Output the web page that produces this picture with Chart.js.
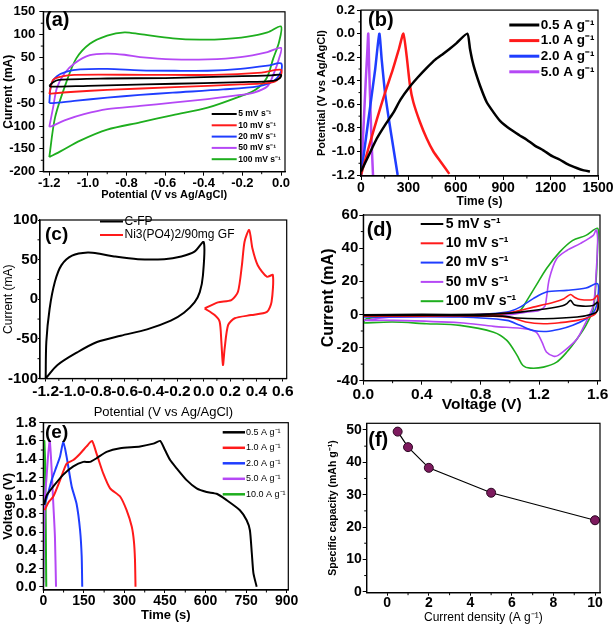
<!DOCTYPE html>
<html><head><meta charset="utf-8">
<script src="https://cdn.jsdelivr.net/npm/chart.js@4.4.1/dist/chart.umd.min.js"></script>
<style>
html,body{margin:0;padding:0;background:#fff;width:614px;height:626px;overflow:hidden;position:relative}
canvas{position:absolute}
</style></head><body>
<canvas id="pa"></canvas><canvas id="pb"></canvas><canvas id="pc"></canvas>
<canvas id="pd"></canvas><canvas id="pe"></canvas><canvas id="pf"></canvas>
<script>
const FAM = '"Liberation Sans", Arial, sans-serif';

// ---------- Panel (a): CV at scan rates ----------
const aXTicks = [-1.2,-1.0,-0.8,-0.6,-0.4,-0.2,0.0];
const aYTicks = [-200,-150,-100,-50,0,50,100,150];
const aLabels = ['5 mV s⁻¹','10 mV s⁻¹','20 mV s⁻¹','50 mV s⁻¹','100 mV s⁻¹'];
const a5 = [[-1.2,-12],[-1.18,-4],[-1.15,1],[-0.9,4],[-0.6,5],[-0.4,7],[-0.2,9],[-0.05,11],[0,12],[-0.005,5],[-0.04,-1],[-0.2,-4],[-0.4,-6],[-0.7,-9],[-1.0,-12],[-1.19,-14],[-1.2,-12]];
const a10 = [[-1.2,-30],[-1.18,1],[-1.14,8],[-1.07,12],[-0.7,12],[-0.35,12],[-0.1,17],[0,23],[-0.003,9],[-0.04,-4],[-0.21,-9],[-0.55,-15],[-0.9,-21],[-1.07,-25],[-1.19,-29],[-1.2,-30]];
const a20 = [[-1.2,-50],[-1.19,-9],[-1.16,9],[-1.11,19],[-1.04,24],[-0.9,25],[-0.73,22],[-0.55,21],[-0.38,21],[-0.21,25],[-0.07,32],[0,37],[0,19],[-0.04,-2],[-0.12,-13],[-0.3,-20],[-0.56,-27],[-0.73,-32],[-0.9,-38],[-1.07,-45],[-1.18,-50],[-1.2,-50]];
const a50 = [[-1.2,-102],[-1.18,-59],[-1.16,-16],[-1.12,16],[-1.07,37],[-0.99,55],[-0.9,58.5],[-0.81,56],[-0.73,51],[-0.56,46],[-0.38,46],[-0.21,51],[-0.07,62],[0,71],[-0.01,48],[-0.04,12],[-0.07,-13],[-0.14,-27],[-0.21,-32],[-0.38,-41],[-0.56,-49],[-0.73,-56],[-0.9,-63],[-1.02,-74],[-1.11,-86],[-1.18,-99],[-1.2,-102]];
const a100 = [[-1.2,-168],[-1.17,-81],[-1.11,-2],[-1.06,48],[-0.99,80],[-0.9,98],[-0.81,105],[-0.73,101],[-0.56,92],[-0.42,89],[-0.3,90],[-0.18,95],[-0.07,105],[0,118],[-0.01,84],[-0.04,48],[-0.074,5],[-0.13,-20],[-0.21,-35],[-0.38,-60],[-0.56,-76],[-0.73,-92],[-0.9,-108],[-1.04,-132],[-1.14,-155],[-1.2,-168]];

// ---------- Panel (b): GCD ----------
const bXTicks = [0,300,600,900,1200,1500];
const bYTicks = [-1.2,-1.0,-0.8,-0.6,-0.4,-0.2,0.0,0.2];
const bLabels = ['0.5 A g⁻¹','1.0 A g⁻¹','2.0 A g⁻¹','5.0 A g⁻¹'];
const b05 = [[0,-1.17],[50,-1.03],[100,-0.89],[150,-0.78],[205,-0.67],[250,-0.56],[306,-0.455],[360,-0.37],[416,-0.29],[470,-0.22],[521,-0.17],[560,-0.13],[605,-0.08],[673,0],[690,-0.13],[705,-0.23],[721,-0.31],[753,-0.44],[795,-0.58],[840,-0.67],[880,-0.74],[943,-0.81],[1000,-0.86],[1049,-0.9],[1100,-0.95],[1154,-0.99],[1210,-1.04],[1259,-1.07],[1310,-1.11],[1365,-1.14],[1410,-1.16],[1449,-1.17]];
const b10 = [[0,-1.2],[50,-0.96],[100,-0.73],[150,-0.51],[200,-0.31],[240,-0.13],[268,0],[289,-0.19],[310,-0.44],[331,-0.58],[373,-0.75],[416,-0.89],[458,-1.0],[511,-1.1],[559,-1.19]];
const b20 = [[0,-1.2],[30,-0.9],[60,-0.6],[90,-0.3],[116,0],[131,-0.22],[152,-0.5],[179,-0.75],[205,-0.97],[232,-1.2]];
const b50 = [[0,-1.2],[10,-0.95],[20,-0.68],[30,-0.4],[40,-0.15],[46,0],[52,-0.3],[60,-0.65],[68,-0.95],[76,-1.2]];

// ---------- Panel (c): CV comparison ----------
const cXTicks = [-1.2,-1.0,-0.8,-0.6,-0.4,-0.2,0.0,0.2,0.4,0.6];
const cYTicks = [-100,-50,0,50,100];
const cLabels = ['C-FP','Ni3(PO4)2/90mg GF'];
const cFP = [[-1.2,-100],[-1.195,-54],[-1.17,-12],[-1.13,22],[-1.08,43],[-1.0,55],[-0.88,59],[-0.78,57],[-0.68,54],[-0.5,50.6],[-0.3,50.6],[-0.17,54],[-0.07,60],[0,72],[-0.006,30],[-0.03,9],[-0.07,-4],[-0.15,-17],[-0.25,-27],[-0.43,-38],[-0.63,-46],[-0.81,-54],[-0.96,-67],[-1.11,-83],[-1.2,-100]];
const cNi = [[0.007,-11.6],[0.108,-4],[0.21,-1.1],[0.26,9.4],[0.29,43],[0.31,72.6],[0.345,87.4],[0.37,64],[0.41,43],[0.48,28.4],[0.525,30.5],[0.515,-3.2],[0.48,-15.9],[0.36,-20],[0.235,-24],[0.185,-32.7],[0.159,-62],[0.146,-83],[0.134,-53.7],[0.121,-28.5],[0.083,-20],[0.007,-11.6]];

// ---------- Panel (d): device CV ----------
const dXTicks = [0.0,0.4,0.8,1.2,1.6];
const dYTicks = [-40,-20,0,20,40,60];
const dLabels = ['5 mV s⁻¹','10 mV s⁻¹','20 mV s⁻¹','50 mV s⁻¹','100 mV s⁻¹'];
const d5 = [[0,-0.2],[0.4,0],[0.8,0],[0.9,0.3],[1.07,1.4],[1.25,3.4],[1.36,5.2],[1.39,6.5],[1.415,8.5],[1.44,5.8],[1.5,5],[1.57,5.4],[1.6,7.4],[1.6,2.4],[1.57,0.4],[1.46,-1.6],[1.23,-2.6],[1.05,-2.2],[0.95,-1],[0.5,-0.6],[0,-0.6]];
const d10 = [[0,-0.6],[0.4,-0.3],[0.89,0],[1.02,1.4],[1.16,4.4],[1.3,7.4],[1.37,9.5],[1.415,12],[1.44,10.5],[1.48,9],[1.57,9],[1.6,11.5],[1.6,3.4],[1.57,-0.6],[1.46,-3.6],[1.34,-5],[1.23,-5.6],[1.11,-4.6],[1.02,-2.2],[0.89,-1],[0.4,-1],[0,-1]];
const d20 = [[0,-1],[0.66,-0.6],[0.98,1.4],[1.07,4.4],[1.16,9.5],[1.25,13.5],[1.39,14.5],[1.52,15.9],[1.6,18.5],[1.6,9.5],[1.58,2.4],[1.52,-2.6],[1.43,-6.6],[1.34,-9],[1.25,-10.3],[1.16,-9.7],[1.07,-6.6],[0.98,-3.6],[0.66,-1.6],[0,-1.6]];
const d50 = [[0,-3.6],[0.2,-1.6],[0.66,-1],[0.98,-0.2],[1.11,1.4],[1.2,2.4],[1.24,5],[1.25,9.5],[1.27,21.5],[1.32,33.6],[1.39,38.6],[1.48,42.7],[1.57,47.7],[1.59,51],[1.6,45.7],[1.59,25.6],[1.57,5.4],[1.52,-4.6],[1.46,-14.7],[1.39,-20.7],[1.33,-24.7],[1.3,-25.2],[1.25,-22.7],[1.22,-16.7],[1.18,-10.7],[1.11,-8.7],[0.89,-7.2],[0.66,-5],[0.2,-3.6],[0,-3.6]];
const d100 = [[0,-5.2],[0.02,-2.6],[0.2,-1],[0.66,-0.6],[0.98,0.4],[1.07,2.4],[1.11,7.4],[1.18,17.5],[1.25,27.6],[1.34,37.6],[1.43,44.7],[1.52,47.7],[1.6,52],[1.6,41.6],[1.59,21.5],[1.57,3.4],[1.52,-6.6],[1.46,-14.7],[1.39,-22.7],[1.32,-28.8],[1.23,-31.8],[1.14,-32.4],[1.09,-30.8],[1.05,-24.7],[0.98,-15.7],[0.89,-10.7],[0.66,-6.6],[0.43,-5.6],[0.2,-4.6],[0,-5.2]];

// ---------- Panel (e): device GCD ----------
const eXTicks = [0,150,300,450,600,750,900];
const eYTicks = [0.0,0.2,0.4,0.6,0.8,1.0,1.2,1.4,1.6,1.8];
const eLabels = ['0.5 A g⁻¹','1.0 A g⁻¹','2.0 A g⁻¹','5.0 A g⁻¹','10.0 A g⁻¹'];
const e05 = [[3,0.9],[12,1.0],[37,1.1],[74,1.23],[111,1.32],[148,1.37],[173,1.37],[197,1.41],[234,1.48],[284,1.52],[358,1.54],[407,1.57],[432,1.6],[450,1.5],[469,1.39],[493,1.3],[530,1.17],[567,1.08],[604,1.04],[641,1.02],[678,0.95],[727,0.84],[752,0.73],[764,0.62],[771,0.37],[777,0.15],[789,0]];
const e10 = [[5,0.84],[20,0.93],[37,0.99],[62,1.17],[86,1.35],[111,1.39],[136,1.46],[160,1.54],[180,1.6],[197,1.46],[222,1.24],[247,1.08],[284,0.99],[308,0.84],[327,0.66],[335,0.5],[339,0.3],[341,0]];
const e20 = [[5,0.9],[20,1.05],[31,1.17],[49,1.32],[62,1.43],[74,1.59],[86,1.43],[105,1.1],[123,0.91],[136,0.62],[142,0.33],[144,0]];
const e50 = [[0,0],[5,0.95],[12,1.2],[18,1.45],[24,1.6],[31,1.28],[37,0.91],[43,0.55],[47,0]];
const e100 = [[0,0.05],[2,1.0],[4,1.6],[7,1.35],[9,0.7],[11,0]];

// ---------- Panel (f): specific capacity ----------
const fXTicks = [0,2,4,6,8,10];
const fYTicks = [0,10,20,30,40,50];
const fDensity = [0.5,1,2,5,10];
const fCapacity = [49.5,44.7,38.3,30.6,22.1];

const RED='#ff1a1a', BLUE='#1f3dff', PURP='#b548f5', GREEN='#1eae1e', BLACK='#000000';

const overlay = {
  id:'overlay',
  afterDraw(chart, args, o){
    const ctx = chart.ctx, ca = chart.chartArea;
    const L = o.origin[0], T = o.origin[1];
    ctx.save();
    ctx.strokeStyle='#000'; ctx.lineWidth=1.2;
    ctx.strokeRect(ca.left, ca.top, ca.right-ca.left, ca.bottom-ca.top);
    ctx.lineWidth=1;
    for (const id of ['x','y']) {
      const step = o.minor[id]; const s = chart.scales[id];
      const n0 = Math.ceil(s.min/step - 1e-6), n1 = Math.floor(s.max/step + 1e-6);
      for (let n=n0; n<=n1; n++) {
        const v = n*step;
        if (s.ticks.some(t=>Math.abs(t.value-v) < step*0.01)) continue;
        const p = s.getPixelForValue(v);
        ctx.beginPath();
        if (id==='x') { ctx.moveTo(p, ca.bottom); ctx.lineTo(p, ca.bottom+o.minorLen); }
        else { ctx.moveTo(ca.left, p); ctx.lineTo(ca.left-o.minorLen, p); }
        ctx.stroke();
      }
    }
    const lg = o.legend;
    if (lg) {
      ctx.font = lg.font; ctx.textBaseline='middle'; ctx.textAlign='left'; ctx.fillStyle='#000';
      chart.data.datasets.forEach((d,i)=>{
        const y = lg.y - T + i*lg.dy, x = lg.x - L;
        ctx.strokeStyle=d.borderColor; ctx.lineWidth=lg.lw;
        ctx.beginPath(); ctx.moveTo(x,y); ctx.lineTo(x+lg.len,y); ctx.stroke();
        ctx.fillText(d.label, x+lg.len+lg.gap, y);
      });
    }
    const lb = o.label;
    ctx.font = lb.font; ctx.fillStyle='#000'; ctx.textBaseline='middle'; ctx.textAlign='left';
    ctx.fillText(lb.text, lb.x - L, lb.y - T);
    ctx.restore();
  }
};

function pts(arr){ return arr.map(p=>({x:p[0], y:p[1]})); }
function ds(label, arr, color, lw, tension){
  return {label, data:pts(arr), borderColor:color, backgroundColor:color, borderWidth:lw, showLine:true, pointRadius:0, fill:false, tension:tension};
}
function font(size, weight){ return {family:FAM, size:size, weight:weight||'bold'}; }

function build(id, c){
  const [L,T,W,H] = c.rect;
  const cv = document.getElementById(id);
  cv.width=W; cv.height=H; cv.style.left=L+'px'; cv.style.top=T+'px';
  const [x0,y0,x1,y1] = c.area;
  const yOff = c.yTitleFont.size*0.6, xOff = c.xTitleFont.size*0.6;
  const padL = Math.max(0, c.yTitleX - yOff - L);
  const padB = Math.max(0, (T+H) - (c.xTitleY + xOff));
  const padT = y0 - T, padR = (L+W) - x1;
  const yW = x0 - L - padL;
  const xH = (T+H-padB) - y1;
  new Chart(cv, {
    type:'scatter',
    data:{datasets:c.datasets},
    options:{
      responsive:false, animation:false, events:[],
      layout:{padding:{left:padL,right:padR,top:padT,bottom:padB}, autoPadding:false},
      plugins:{legend:{display:false}, tooltip:{enabled:false},
        overlay:{origin:[L,T], minor:c.minor, minorLen:c.minorLen||2.5, legend:c.legend, label:c.label}},
      scales:{
        x:{type:'linear', position:'bottom', min:c.xRange[0], max:c.xRange[1],
          afterBuildTicks:s=>{ s.ticks = c.xTicks.map(v=>({value:v})); },
          afterFit:s=>{ s.height = xH; },
          ticks:{autoSkip:false, maxRotation:0, minRotation:0, padding:c.xPad, color:'#000', font:c.xTickFont, callback:v=>c.xFmt(v)},
          grid:{drawOnChartArea:false, drawTicks:true, tickLength:c.xTickLen, color:'#000', tickColor:'#000', lineWidth:1},
          border:{display:true, color:'#000', width:1.2},
          title:{display:true, text:c.xTitle, color:'#000', font:c.xTitleFont, padding:0}},
        y:{type:'linear', position:'left', min:c.yRange[0], max:c.yRange[1],
          afterBuildTicks:s=>{ s.ticks = c.yTicks.map(v=>({value:v})); },
          afterFit:s=>{ s.width = yW; },
          ticks:{autoSkip:false, padding:c.yPad, color:'#000', font:c.yTickFont, callback:v=>c.yFmt(v)},
          grid:{drawOnChartArea:false, drawTicks:true, tickLength:c.yTickLen, color:'#000', tickColor:'#000', lineWidth:1},
          border:{display:true, color:'#000', width:1.2},
          title:{display:true, text:c.yTitle, color:'#000', font:c.yTitleFont, padding:0}}
      }
    },
    plugins:[overlay]
  });
}
const f1 = v=>Number(v).toFixed(1), f0 = v=>String(Math.round(v));

build('pa', {rect:[0,0,300,210], area:[43.3,7.3,285,171.7], yTitleX:8.3, xTitleY:195,
  xRange:[-1.231,0.0207], yRange:[-200,150], xTicks:aXTicks, yTicks:aYTicks, xFmt:f1, yFmt:f0,
  xTickFont:font(13), yTickFont:font(13), xTitleFont:font(11), yTitleFont:font(12),
  xTitle:'Potential (V vs Ag/AgCl)', yTitle:'Current (mA)', xPad:0, yPad:4, xTickLen:4, yTickLen:4,
  minor:{x:0.1, y:25},
  legend:{x:211.7, y:114, dy:11.3, len:25, gap:1.5, font:'bold 8.5px '+FAM, lw:2},
  label:{text:'(a)', x:45, y:20, font:'bold 20px '+FAM},
  datasets:[ds(aLabels[0],a5,BLACK,1.8,0.3), ds(aLabels[1],a10,RED,1.8,0.3), ds(aLabels[2],a20,BLUE,1.8,0.3), ds(aLabels[3],a50,PURP,1.8,0.3), ds(aLabels[4],a100,GREEN,1.8,0.3)]});

build('pb', {rect:[300,0,314,210], area:[361,8.3,598,176], yTitleX:321.7, xTitleY:201.7,
  xRange:[0,1500], yRange:[-1.208,0.2], xTicks:bXTicks, yTicks:bYTicks, xFmt:f0, yFmt:f1,
  xTickFont:font(14), yTickFont:font(13.5), xTitleFont:font(12), yTitleFont:font(11),
  xTitle:'Time (s)', yTitle:'Potential (V vs Ag/AgCl)', xPad:0, yPad:2, xTickLen:4, yTickLen:4,
  minor:{x:150, y:0.1},
  legend:{x:509.3, y:25, dy:15.6, len:30, gap:1.5, font:'bold 13.5px '+FAM, lw:3},
  label:{text:'(b)', x:368, y:20, font:'bold 20px '+FAM},
  datasets:[ds(bLabels[0],b05,BLACK,2.5,0.2), ds(bLabels[1],b10,RED,2.5,0.2), ds(bLabels[2],b20,BLUE,2.5,0.2), ds(bLabels[3],b50,PURP,2.5,0.2)]});

build('pc', {rect:[0,205,300,217], area:[40,220,286.7,378.5], yTitleX:8.3, xTitleY:412.3,
  xRange:[-1.243,0.63], yRange:[-100,100], xTicks:cXTicks, yTicks:cYTicks, xFmt:f1, yFmt:f0,
  xTickFont:font(15.5), yTickFont:font(15), xTitleFont:font(13,'normal'), yTitleFont:font(12,'normal'),
  xTitle:'Potential (V vs Ag/AgCl)', yTitle:'Current (mA)', xPad:1, yPad:0, xTickLen:3, yTickLen:2,
  minor:{x:0.1, y:25},
  legend:{x:100, y:221.5, dy:13.5, len:23, gap:1.5, font:'12px '+FAM, lw:2},
  label:{text:'(c)', x:45, y:234.5, font:'bold 19px '+FAM},
  datasets:[ds(cLabels[0],cFP,BLACK,2,0.3), ds(cLabels[1],cNi,RED,2,0.25)]});

build('pd', {rect:[300,205,314,215], area:[363.3,215,600,380.7], yTitleX:328.3, xTitleY:404.5,
  xRange:[0,1.616], yRange:[-40,60], xTicks:dXTicks, yTicks:dYTicks, xFmt:f1, yFmt:f0,
  xTickFont:font(15.5), yTickFont:font(15), xTitleFont:font(15.5), yTitleFont:font(16),
  xTitle:'Voltage (V)', yTitle:'Current (mA)', xPad:1, yPad:1, xTickLen:4, yTickLen:4,
  minor:{x:0.2, y:10},
  legend:{x:420.7, y:224, dy:19.3, len:22.6, gap:2.5, font:'bold 14px '+FAM, lw:2},
  label:{text:'(d)', x:366.7, y:230, font:'bold 20px '+FAM},
  datasets:[ds(dLabels[0],d5,BLACK,1.6,0.3), ds(dLabels[1],d10,RED,1.6,0.3), ds(dLabels[2],d20,BLUE,1.6,0.3), ds(dLabels[3],d50,PURP,1.6,0.3), ds(dLabels[4],d100,GREEN,1.6,0.3)]});

build('pe', {rect:[0,410,300,216], area:[43.3,422.7,288.3,590], yTitleX:8.3, xTitleY:615,
  xRange:[0,906], yRange:[-0.036,1.8], xTicks:eXTicks, yTicks:eYTicks, xFmt:f0, yFmt:f1,
  xTickFont:font(14), yTickFont:font(15), xTitleFont:font(13), yTitleFont:font(13),
  xTitle:'Time (s)', yTitle:'Voltage (V)', xPad:-0.5, yPad:2.6, xTickLen:3, yTickLen:4,
  minor:{x:75, y:0.1},
  legend:{x:222.7, y:432.3, dy:15.5, len:22.3, gap:1, font:'9px '+FAM, lw:2.5},
  label:{text:'(e)', x:45, y:433, font:'bold 19px '+FAM},
  datasets:[ds(eLabels[0],e05,BLACK,2,0.2), ds(eLabels[1],e10,RED,2,0.2), ds(eLabels[2],e20,BLUE,2,0.2), ds(eLabels[3],e50,PURP,2,0.2), ds(eLabels[4],e100,GREEN,2,0.1)]});

build('pf', {rect:[300,410,314,216], area:[366.7,423.3,600,592.7], yTitleX:333.3, xTitleY:617.3,
  xRange:[-0.99,10.24], yRange:[-0.3,52.07], xTicks:fXTicks, yTicks:fYTicks, xFmt:f0, yFmt:f0,
  xTickFont:font(14), yTickFont:font(14), xTitleFont:font(12,'normal'), yTitleFont:font(10.5),
  xTitle:'Current density (A g⁻¹)', yTitle:'Specific capacity (mAh g⁻¹)', xPad:-1, yPad:1, xTickLen:3, yTickLen:4,
  minor:{x:1, y:5},
  legend:null,
  label:{text:'(f)', x:368.3, y:440, font:'bold 20px '+FAM},
  datasets:[{label:'Specific capacity', data:fDensity.map((x,i)=>({x:x, y:fCapacity[i]})), showLine:true, borderColor:'#000', borderWidth:1.2, pointRadius:4.5, pointBackgroundColor:'#7d1a5e', pointBorderColor:'#2a0620', pointBorderWidth:1, tension:0}]});
</script>
</body></html>
